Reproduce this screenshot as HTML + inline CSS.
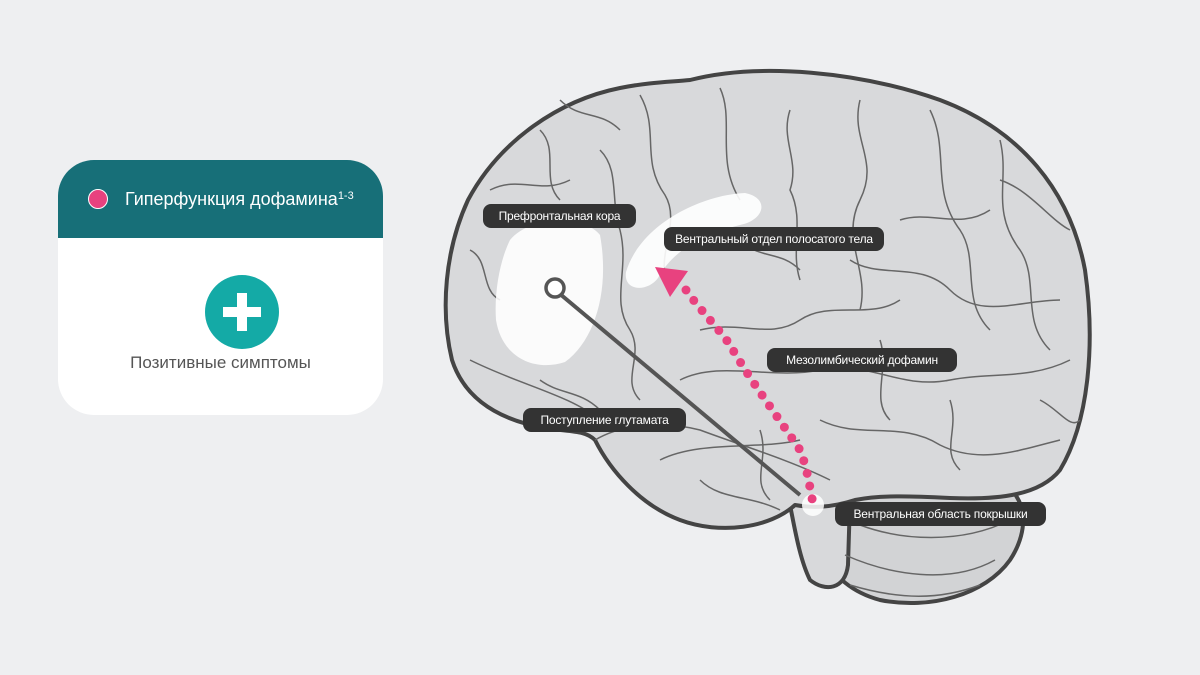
<!DOCTYPE html>
<html><head><meta charset="utf-8"><style>
body{margin:0;width:1200px;height:675px;background:#eeeff1;overflow:hidden;font-family:"Liberation Sans","Noto Sans CJK SC",sans-serif;position:relative}
.card{position:absolute;left:58px;top:160px;width:325px;height:255px;border-radius:36px;background:#fff;overflow:hidden}
.hd{height:78px;background:#176f78;color:#fff;font-size:18px;display:flex;align-items:center}
.dot{width:20px;height:20px;border-radius:50%;background:#e8427f;border:1.5px solid #fff;margin-left:30px;margin-right:17px;box-sizing:border-box}
.plus{position:absolute;left:147px;top:115px;width:74px;height:74px;border-radius:50%;background:#14aaa6}
.plus:before{content:"";position:absolute;left:18px;top:32px;width:38px;height:10px;background:#fff}
.plus:after{content:"";position:absolute;left:32px;top:18px;width:10px;height:38px;background:#fff}
.pt{position:absolute;left:0;width:325px;top:193px;text-align:center;font-size:17px;color:#555}
.lb{position:absolute;background:#333;color:#fff;font-size:12px;letter-spacing:-0.2px;height:24px;line-height:24px;border-radius:8px;text-align:center;white-space:nowrap}
</style></head><body>
<div class="card"><div class="hd"><div class="dot"></div>Гиперфункция дофамина<sup style="font-size:11px;position:relative;top:-3px">1-3</sup></div>
<div class="plus"></div><div class="pt">Позитивные симптомы</div></div>
<svg width="1200" height="675" style="position:absolute;left:0;top:0">
<g stroke="#444" stroke-width="4" fill="#d8d9db" stroke-linejoin="round">
<path d="M800,505 C850,480 920,470 990,478 C1030,490 1030,530 1010,560 C985,595 930,610 880,600 C850,592 835,575 825,560 Z" fill="#d2d3d5"/>
<path d="M790,505 L850,500 L848,565 C845,590 825,592 810,580 C800,560 795,530 790,505 Z"/>
<path d="M690,80 C760,62 860,72 940,100 C1020,130 1070,190 1085,270 C1095,340 1090,420 1060,470 C1040,495 1000,500 950,498 C910,496 880,495 855,500 C830,508 812,508 795,505 C770,528 720,535 680,520 C640,505 610,470 595,440 C585,430 570,432 545,428 C500,420 465,400 452,360 C440,310 445,250 468,200 C500,140 560,100 620,88 C650,82 670,82 690,80 Z"/>
</g>
<g stroke="#666" stroke-width="1.5" fill="none">
<path d="M470,360 C520,385 570,395 600,420"/>
<path d="M595,440 C620,425 660,420 700,430 C740,445 790,460 830,480"/>
<path d="M640,95 C660,130 640,160 665,195 C680,220 660,250 665,275"/>
<path d="M720,88 C735,120 715,160 740,200"/>
<path d="M790,110 C780,140 800,160 790,190 C805,220 790,250 800,280"/>
<path d="M860,100 C850,140 880,160 860,200 C840,240 870,270 860,310"/>
<path d="M930,110 C950,150 930,190 960,230 C980,260 960,300 990,330"/>
<path d="M1000,140 C1010,180 990,210 1020,250 C1040,280 1020,320 1050,350"/>
<path d="M540,130 C560,150 540,180 560,200"/>
<path d="M490,190 C520,175 540,195 570,180"/>
<path d="M470,250 C490,260 480,290 500,300"/>
<path d="M600,150 C620,170 610,200 620,230 C630,270 610,300 630,330 C645,355 620,380 640,400"/>
<path d="M700,330 C740,320 770,340 800,320 C830,300 870,320 900,300"/>
<path d="M680,380 C720,360 770,380 820,370 C870,360 900,390 950,380 C990,372 1030,380 1070,360"/>
<path d="M660,460 C700,440 760,450 800,440"/>
<path d="M820,420 C860,440 900,420 940,445 C980,465 1020,450 1060,440"/>
<path d="M850,260 C880,280 920,260 950,290 C980,320 1020,300 1060,300"/>
<path d="M740,240 C760,260 780,250 800,270"/>
<path d="M900,220 C930,210 960,230 990,210"/>
<path d="M950,400 C960,430 940,450 960,470"/>
<path d="M880,340 C890,370 870,400 890,420"/>
<path d="M760,430 C770,460 750,480 770,500"/>
<path d="M700,480 C720,500 750,495 780,510"/>
<path d="M860,525 C900,540 960,545 1010,520"/>
<path d="M845,555 C890,575 950,585 995,560"/>
<path d="M850,585 C900,600 940,600 980,585"/>
<path d="M1000,180 C1030,190 1050,220 1070,230"/>
<path d="M1040,400 C1060,410 1070,430 1080,420"/>
<path d="M560,100 C580,120 600,110 620,130"/>
<path d="M540,380 C560,395 580,390 600,410"/>
</g>
<path d="M510,240 C530,215 585,215 600,235 C610,290 595,340 565,362 C535,372 502,358 496,320 C494,292 500,260 510,240 Z" fill="#fff" opacity="0.88"/>
<path d="M626,272 C640,225 700,195 745,193 C770,198 765,220 740,225 C700,235 672,252 658,278 C648,292 623,292 626,272 Z" fill="#fff" opacity="0.9"/>
<circle cx="813" cy="505" r="11" fill="#fff" opacity="0.85"/>
<line x1="560" y1="294" x2="800" y2="495" stroke="#555" stroke-width="4"/>
<circle cx="555" cy="288" r="9" fill="#fff" stroke="#555" stroke-width="3.5"/>
<path d="M686,290 C700,310 720,330 730,345 C750,380 780,420 800,450 C808,470 810,490 813,503" fill="none" stroke="#e8427f" stroke-width="9" stroke-linecap="round" stroke-dasharray="0 13"/>
<polygon points="655,267 688,271 670,297" fill="#e8427f"/>
</svg>
<div class="lb" style="left:483px;top:204px;width:153px">Префронтальная кора</div>
<div class="lb" style="left:664px;top:227px;width:220px">Вентральный отдел полосатого тела</div>
<div class="lb" style="left:767px;top:348px;width:190px">Мезолимбический дофамин</div>
<div class="lb" style="left:523px;top:408px;width:163px">Поступление глутамата</div>
<div class="lb" style="left:835px;top:502px;width:211px">Вентральная область покрышки</div>
</body></html>
